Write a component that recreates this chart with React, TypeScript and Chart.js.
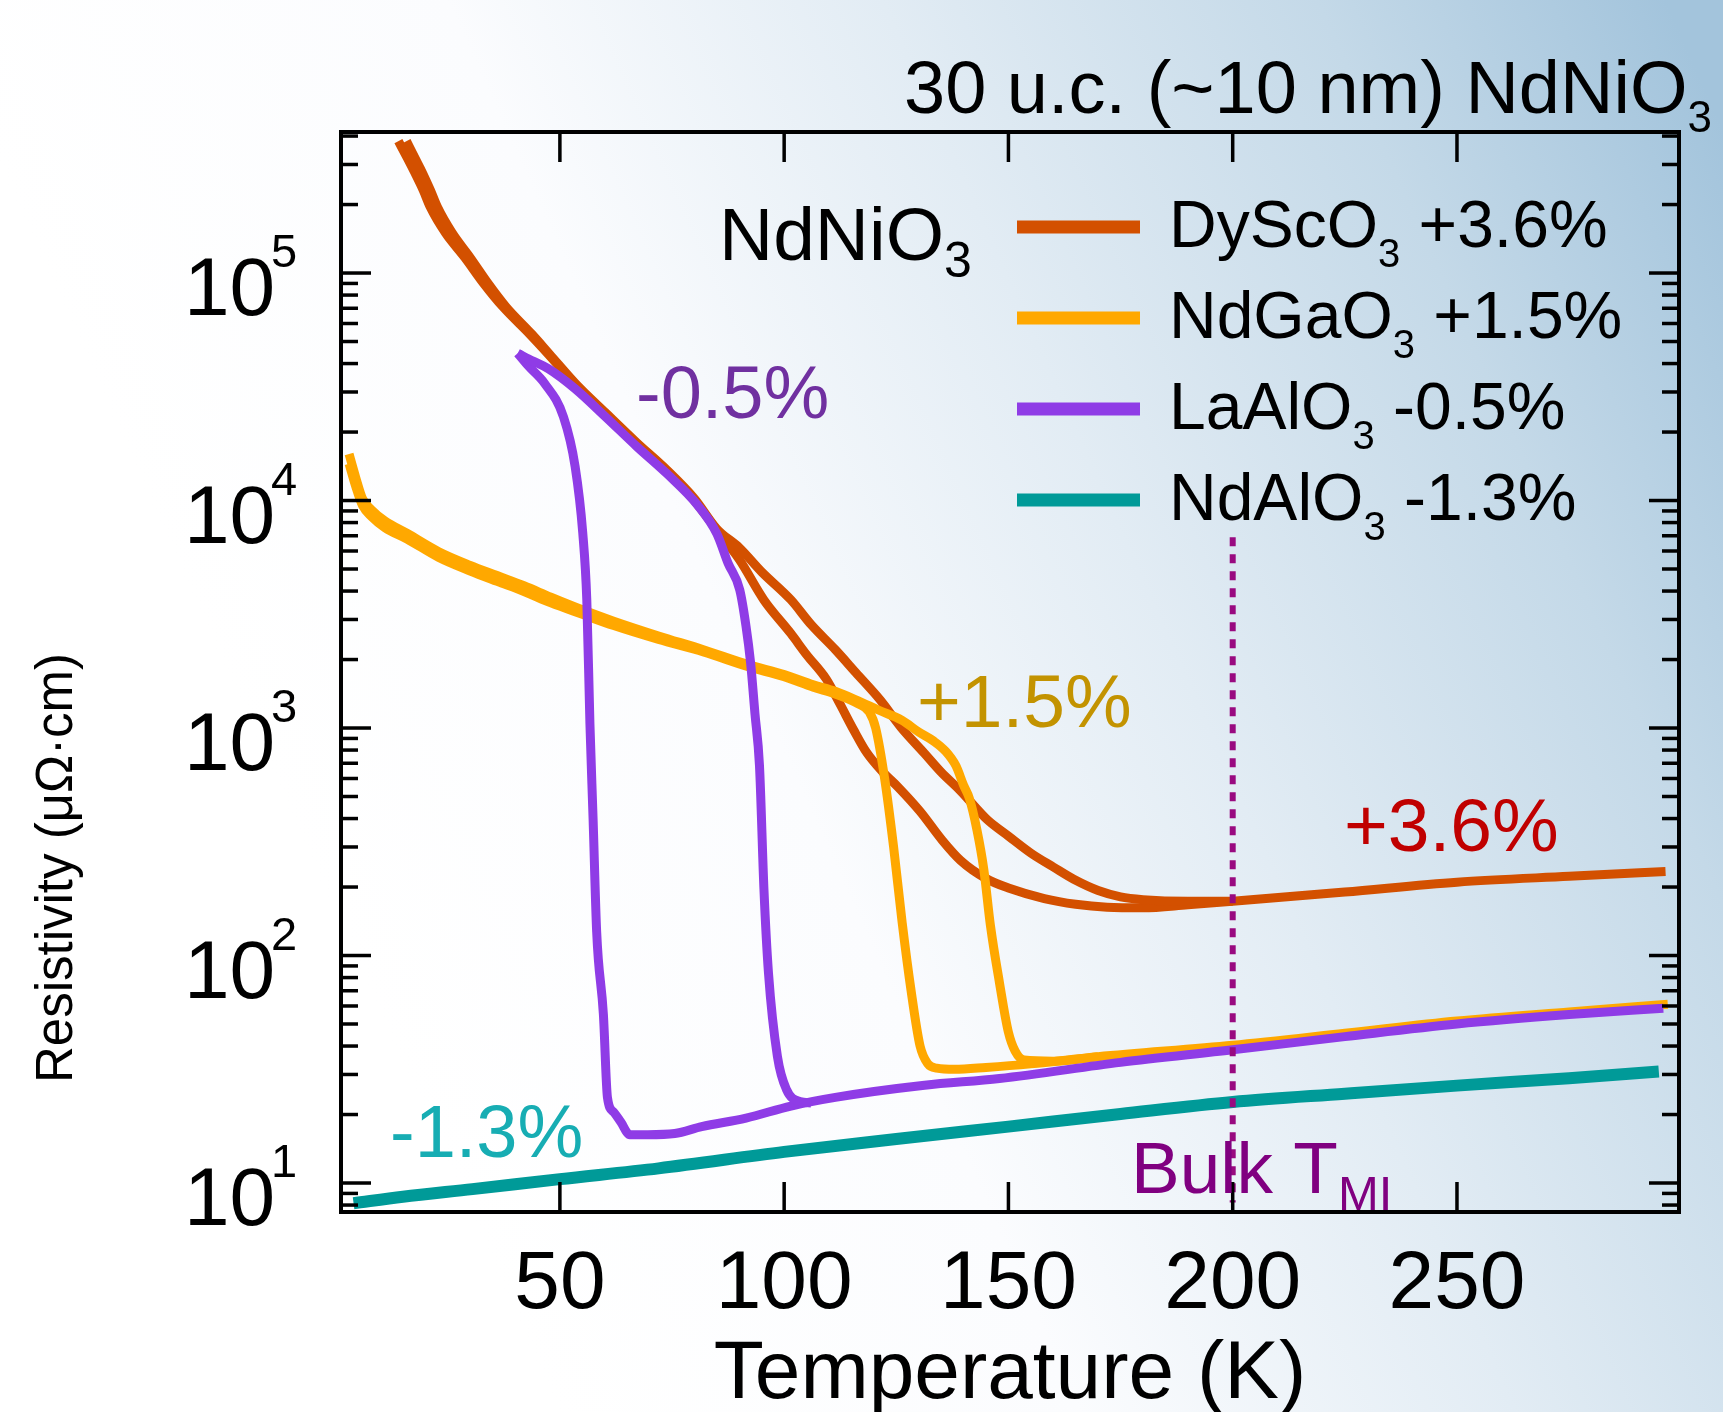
import React, { useEffect, useRef } from "react";
import { Chart, registerables } from "chart.js";

Chart.register(...registerables);

// ---------------- data (T in K, resistivity in µΩ·cm) ----------------
const dyCoolT = [14, 16, 17.7, 19.5, 21.1, 24.5, 28.8, 33, 37.3, 43.2, 47.4, 53.4, 60.2, 67.1, 73.9, 80, 85, 90, 95.5, 101.5, 105, 109.4, 112.4, 115.5, 118.4, 122, 125.4, 130.3, 135.3, 139.3, 145, 150, 158, 165, 172, 180, 190, 200, 225, 250, 275, 296.5];
const dyCoolR = [380000, 320000, 275000, 232000, 195000, 150000, 117000, 90000, 71000, 54000, 44000, 32500, 24000, 17800, 13500, 10000, 7400, 5500, 3650, 2600, 2100, 1640, 1280, 980, 780, 640, 550, 430, 320, 262, 218, 198, 178, 168, 163, 162, 167, 173, 190, 210, 223, 234];

const dyWarmT = [15.8, 17.7, 19.4, 21.1, 22.7, 26, 30, 34, 38, 43.7, 47.7, 53.6, 60.2, 67.1, 73.9, 80, 85, 90, 95, 101.5, 106, 111.4, 116, 121.4, 126, 131.3, 135, 139.3, 145.3, 150, 155, 160, 165, 170, 175, 180, 190, 200];
const dyWarmR = [380000, 320000, 275000, 232000, 195000, 150000, 117000, 90000, 71000, 54000, 44000, 32500, 24300, 18000, 13600, 10200, 7500, 6200, 4850, 3660, 2850, 2210, 1750, 1330, 1010, 773, 640, 530, 395, 335, 282, 245, 214, 193, 181, 176, 173, 173];

const ngCoolT = [3.0, 4.5, 6, 8, 11, 16, 23, 30, 36, 42, 48, 55, 62, 72, 82, 92, 100, 106.5, 111.4, 116.4, 119, 120.4, 122.4, 124.4, 126.3, 128.3, 130.3, 132, 134, 138, 145, 155, 170, 200, 225, 250, 275, 297];
const ngCoolR = [14500, 11500, 9500, 8500, 7600, 6760, 5620, 4900, 4410, 3980, 3550, 3160, 2820, 2450, 2160, 1860, 1680, 1510, 1410, 1280, 1175, 1000, 600, 300, 140, 70, 40, 33.5, 32, 31.6, 32.2, 33.4, 35.9, 40.3, 45.5, 51.5, 56.5, 61];

const ngWarmT = [3.0, 4.5, 6, 8, 11, 16, 23, 30, 36, 42, 48, 55, 62, 72, 82, 92, 100, 106.5, 111.4, 116.4, 121, 126.3, 130, 133.3, 136, 138.3, 140, 141.3, 143, 144.5, 146, 148, 150, 151.5, 153.5, 160, 170];
const ngWarmR = [16000, 12600, 10200, 9100, 8130, 7160, 5960, 5190, 4680, 4220, 3760, 3310, 2950, 2540, 2210, 1900, 1720, 1550, 1450, 1320, 1200, 1080, 960, 877, 790, 682, 560, 490, 355, 240, 135, 76, 46, 38, 34.7, 34.3, 35.9];

const laCoolT = [40.6, 43, 46.6, 50.8, 53.4, 55.1, 56.0, 56.7, 57.4, 58.2, 59.7, 60.6, 62, 63.6, 65.6, 69.6, 75.6, 81.6, 91.5, 101.5, 111.4, 131.3, 148, 175, 200, 225, 250, 275, 296];
const laCoolR = [44400, 39000, 32700, 23300, 14100, 7200, 3650, 1040, 400, 127, 55, 23.8, 20.5, 18.5, 16.3, 16.3, 16.5, 17.7, 19.3, 21.8, 23.8, 26.9, 28.8, 33.9, 38.5, 44, 50, 55, 58.6];

const laWarmT = [40.6, 44, 47.4, 53.4, 60.2, 67.1, 73.9, 80.7, 85, 87.5, 90.1, 91.5, 92.5, 93.5, 94.5, 95.5, 96.5, 98.5, 100.5, 103.5, 106];
const laWarmR = [44400, 41000, 38000, 31000, 23300, 17300, 13100, 9550, 7150, 5300, 4050, 2800, 1950, 1150, 682, 194, 84, 36, 25.8, 22.8, 22.5];

const naT = [4, 15, 30.5, 50, 72, 100, 125, 150, 175, 200, 225, 250, 275, 295];
const naR = [8.15, 8.7, 9.4, 10.4, 11.6, 13.7, 15.6, 17.7, 20.1, 22.7, 24.7, 26.8, 28.9, 30.9];

const bulkT = [200, 200];
const bulkR = [6900, 8.2];

const xTickValues = [50, 100, 150, 200, 250];
const yDecadeValues = [10, 100, 1000, 10000, 100000];
const yDecadeExponents = ["1", "2", "3", "4", "5"];
const yMinorBases = [1, 10, 100, 1000, 10000, 100000];
const yMinorMultipliers = [2, 3, 4, 5, 6, 7, 8, 9];

const legendNames = ["DyScO", "NdGaO", "LaAlO", "NdAlO"];
const legendStrains = ["+3.6%", "+1.5%", "-0.5%", "-1.3%"];

// ---------------- styles ----------------
const RED = "#d35000";
const AMBER = "#ffa800";
const PURPLE = "#8f3ce6";
const TEAL = "#009a98";
const DOT = "#990a80";
const FONT = '"Liberation Sans", Arial, Helvetica, sans-serif';
const legendColors = [RED, AMBER, PURPLE, TEAL];

const W = 1723;
const H = 1412;

function pts(t: number[], r: number[]) {
  return t.map((x, i) => ({ x, y: r[i] }));
}

function textSub(
  ctx: CanvasRenderingContext2D,
  x: number,
  y: number,
  main: string,
  sub: string,
  size: number,
  subSize: number,
  drop: number,
  color: string
) {
  ctx.fillStyle = color;
  ctx.textAlign = "left";
  ctx.textBaseline = "alphabetic";
  ctx.font = `${size}px ${FONT}`;
  ctx.fillText(main, x, y);
  const w = ctx.measureText(main).width;
  ctx.font = `${subSize}px ${FONT}`;
  ctx.fillText(sub, x + w, y + drop);
  return x + w + ctx.measureText(sub).width;
}

export default function App() {
  const ref = useRef<HTMLCanvasElement>(null);

  useEffect(() => {
    const canvas = ref.current;
    if (!canvas) return;

    const bgPlugin = {
      id: "bgGradient",
      beforeDraw(chart: any) {
        const ctx = chart.ctx as CanvasRenderingContext2D;
        ctx.save();
        const g = ctx.createLinearGradient(350, 950, 350 + 1450, 950 - 650);
        g.addColorStop(0, "#ffffff");
        g.addColorStop(0.3, "#fbfcfe");
        g.addColorStop(0.55, "#e2ecf4");
        g.addColorStop(0.8, "#c4d9e8");
        g.addColorStop(1, "#a3c4dc");
        ctx.fillStyle = g;
        ctx.fillRect(0, 0, W, H);
        ctx.restore();
      },
    };

    const decorPlugin = {
      id: "decor",
      afterDatasetsDraw(chart: any) {
        const ctx = chart.ctx as CanvasRenderingContext2D;
        const { left, right, top, bottom } = chart.chartArea;
        const xs = chart.scales.x;
        const ys = chart.scales.y;
        ctx.save();

        const seg = (x1: number, y1: number, x2: number, y2: number) => {
          ctx.beginPath();
          ctx.moveTo(x1, y1);
          ctx.lineTo(x2, y2);
          ctx.stroke();
        };

        // ticks
        ctx.strokeStyle = "#000";
        ctx.lineWidth = 3.5;
        xTickValues.forEach((v) => {
          const px = xs.getPixelForValue(v);
          seg(px, bottom, px, bottom - 30);
          seg(px, top, px, top + 30);
        });
        yDecadeValues.forEach((v) => {
          const py = ys.getPixelForValue(v);
          seg(left, py, left + 30, py);
          seg(right, py, right - 30, py);
        });
        yMinorBases.forEach((b) => {
          yMinorMultipliers.forEach((m) => {
            const v = b * m;
            if (v < ys.min || v > ys.max) return;
            const py = ys.getPixelForValue(v);
            seg(left, py, left + 17, py);
            seg(right, py, right - 17, py);
          });
        });

        // frame
        ctx.lineWidth = 4;
        ctx.strokeRect(left, top, right - left, bottom - top);

        // x tick labels
        ctx.fillStyle = "#000";
        ctx.font = `82px ${FONT}`;
        ctx.textAlign = "center";
        ctx.textBaseline = "alphabetic";
        xTickValues.forEach((v) => {
          ctx.fillText(String(v), xs.getPixelForValue(v), bottom + 96);
        });

        // y tick labels 10^n
        yDecadeValues.forEach((v, i) => {
          const py = ys.getPixelForValue(v);
          ctx.textAlign = "left";
          ctx.font = `82px ${FONT}`;
          ctx.fillText("10", left - 157, py + 42);
          ctx.font = `47px ${FONT}`;
          ctx.fillText(yDecadeExponents[i], left - 70, py - 6);
        });

        // x title
        ctx.font = `82px ${FONT}`;
        ctx.textAlign = "center";
        ctx.fillText("Temperature (K)", (left + right) / 2, bottom + 186);

        // y title
        ctx.save();
        ctx.translate(72, 868);
        ctx.rotate(-Math.PI / 2);
        ctx.font = `51px ${FONT}`;
        ctx.textAlign = "center";
        ctx.fillText("Resistivity (\u03bc\u03a9\u00b7cm)", 0, 0);
        ctx.restore();

        // top title
        textSub(ctx, 904, 113, "30 u.c. (~10 nm) NdNiO", "3", 74, 44, 19, "#000");

        // NdNiO3 label inside
        textSub(ctx, 719, 260, "NdNiO", "3", 75, 50, 17, "#000");

        // legend
        legendNames.forEach((name, i) => {
          const ly = 227 + i * 91;
          ctx.strokeStyle = legendColors[i];
          ctx.lineWidth = 13;
          ctx.lineCap = "butt";
          seg(1017, ly, 1140, ly);
          const xe = textSub(ctx, 1169, ly + 20, name, "3", 66, 40, 20, "#000");
          ctx.font = `66px ${FONT}`;
          ctx.fillText(" " + legendStrains[i], xe, ly + 20);
        });

        // annotations
        ctx.textAlign = "left";
        ctx.font = `74px ${FONT}`;
        ctx.fillStyle = "#7030a0";
        ctx.fillText("-0.5%", 636, 418);
        ctx.fillStyle = "#c39300";
        ctx.font = `75px ${FONT}`;
        ctx.fillText("+1.5%", 917, 727);
        ctx.fillStyle = "#c00000";
        ctx.fillText("+3.6%", 1344, 851);
        ctx.fillStyle = "#17adb3";
        ctx.font = `74px ${FONT}`;
        ctx.fillText("-1.3%", 390, 1157);
        textSub(ctx, 1131, 1193, "Bulk T", "MI", 73, 49, 17, "#800080");

        ctx.restore();
      },
    };

    const common = { pointRadius: 0, fill: false, cubicInterpolationMode: "monotone" as const };

    const chart = new Chart(canvas, {
      type: "line",
      data: {
        datasets: [
          { label: "Bulk TMI", data: pts(bulkT, bulkR), borderColor: DOT, borderWidth: 6, borderDash: [9, 8], pointRadius: 0, tension: 0, cubicInterpolationMode: "default", order: 0 },
          { label: "LaAlO3 warming", data: pts(laWarmT, laWarmR), borderColor: PURPLE, borderWidth: 9, order: 1, ...common },
          { label: "LaAlO3 cooling", data: pts(laCoolT, laCoolR), borderColor: PURPLE, borderWidth: 9, order: 1, ...common },
          { label: "NdGaO3 warming", data: pts(ngWarmT, ngWarmR), borderColor: AMBER, borderWidth: 9, order: 2, ...common },
          { label: "NdGaO3 cooling", data: pts(ngCoolT, ngCoolR), borderColor: AMBER, borderWidth: 9, order: 2, ...common },
          { label: "DyScO3 warming", data: pts(dyWarmT, dyWarmR), borderColor: RED, borderWidth: 9, order: 3, ...common },
          { label: "DyScO3 cooling", data: pts(dyCoolT, dyCoolR), borderColor: RED, borderWidth: 9, order: 3, ...common },
          { label: "NdAlO3", data: pts(naT, naR), borderColor: TEAL, borderWidth: 12, order: 4, ...common },
        ] as any,
      },
      options: {
        responsive: false,
        animation: false,
        devicePixelRatio: 1,
        layout: { padding: { left: 341, top: 132, right: 44, bottom: 200 } },
        elements: { line: { borderJoinStyle: "round", borderCapStyle: "butt" }, point: { radius: 0 } },
        scales: {
          x: { type: "linear", min: 1.2, max: 299.5, display: false },
          y: { type: "logarithmic", min: 7.457, max: 416800, display: false },
        },
        plugins: { legend: { display: false }, tooltip: { enabled: false } },
      },
      plugins: [bgPlugin, decorPlugin],
    });

    return () => chart.destroy();
  }, []);

  return (
    <div style={{ position: "fixed", left: 0, top: 0, width: W, height: H }}>
      <canvas ref={ref} width={W} height={H} style={{ display: "block", width: W, height: H }} />
    </div>
  );
}
